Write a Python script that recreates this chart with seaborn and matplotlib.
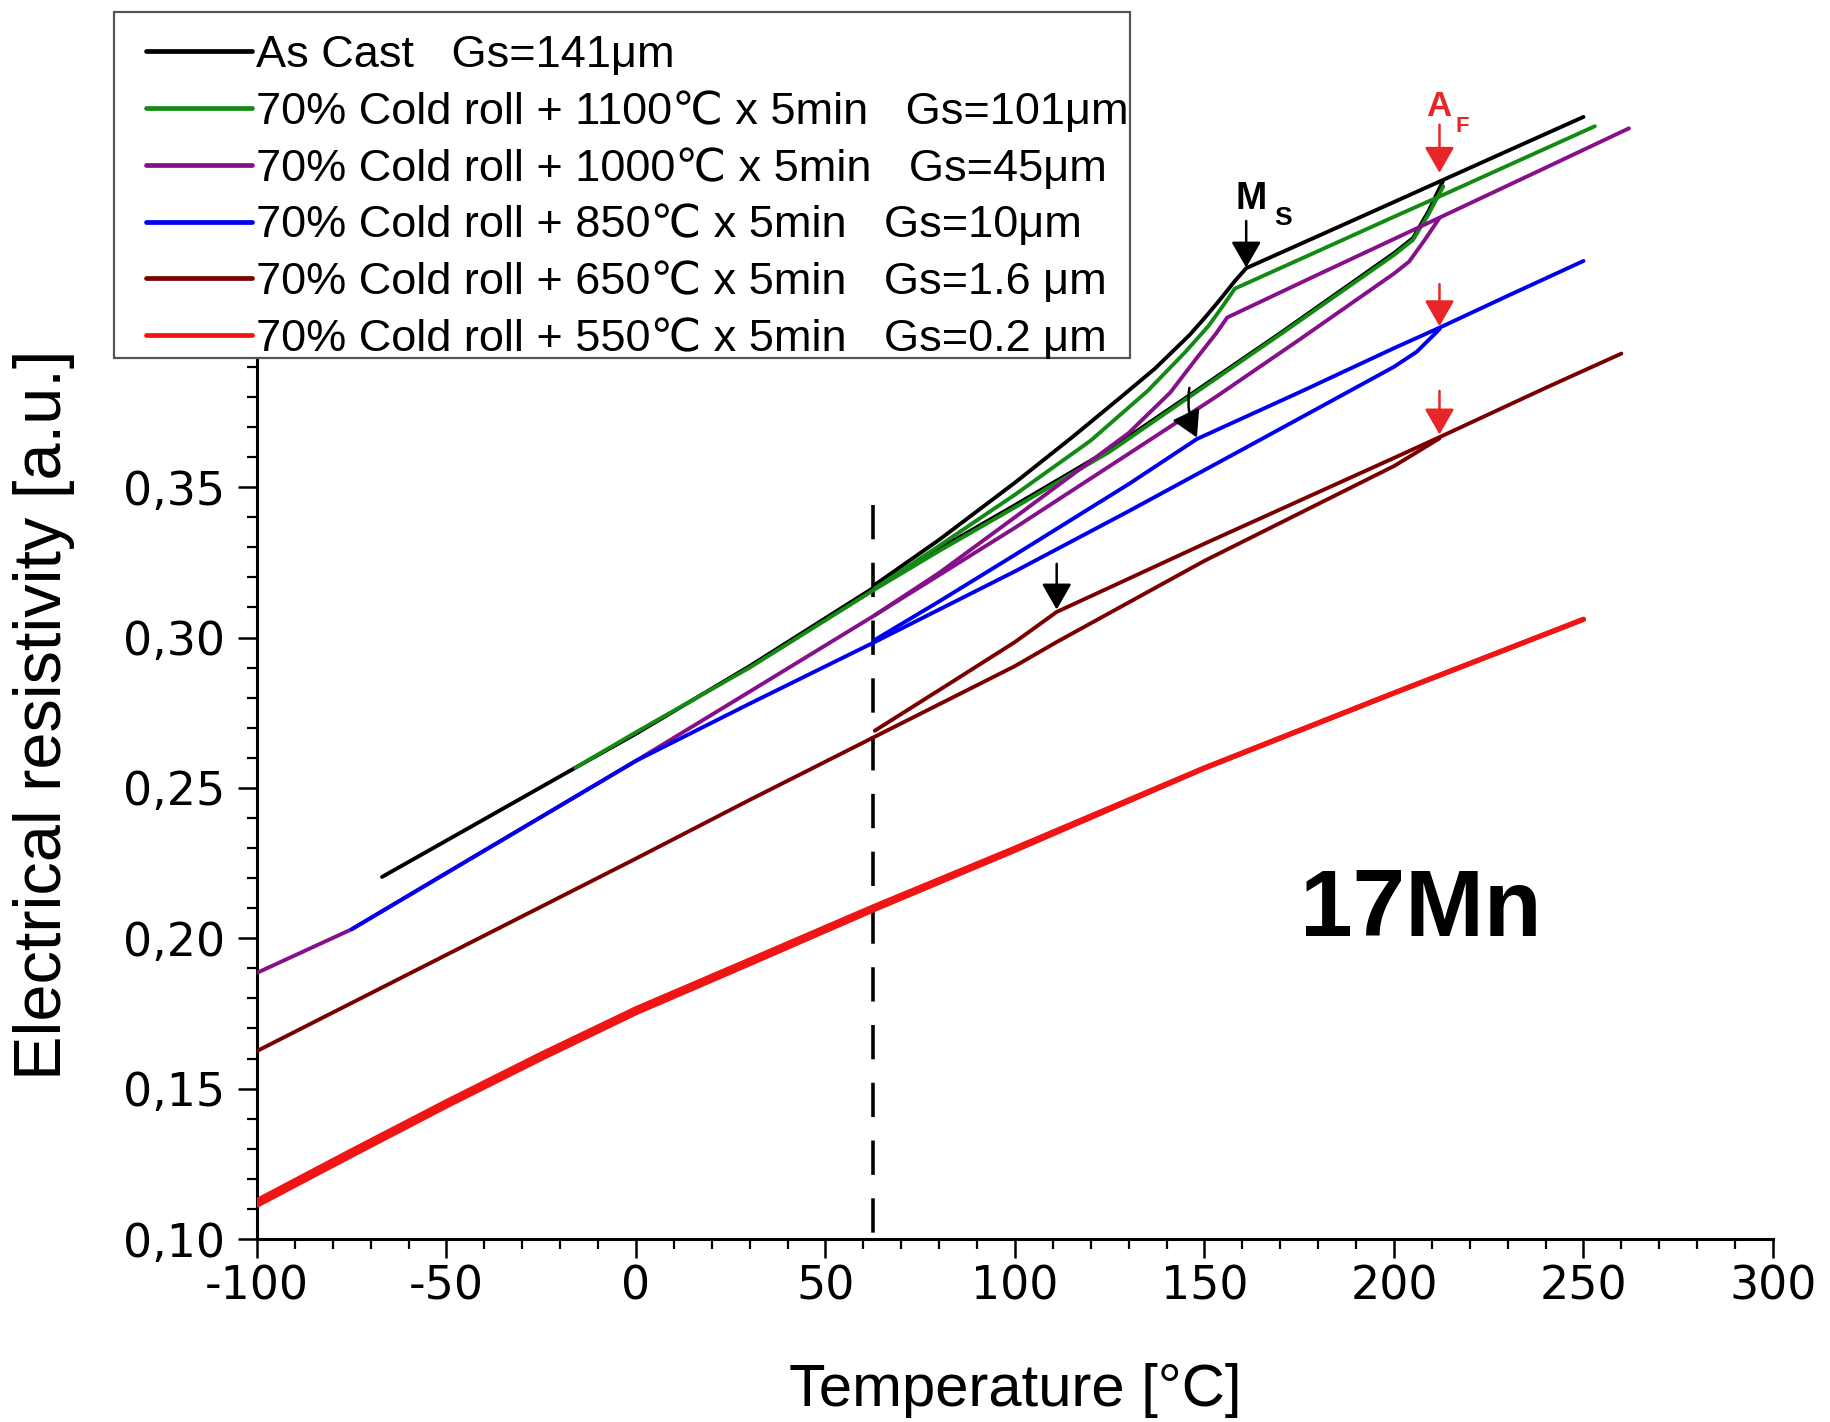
import numpy as np
import pandas as pd
import matplotlib
matplotlib.use("Agg")
import matplotlib.pyplot as plt
from matplotlib.ticker import MultipleLocator, FuncFormatter
from matplotlib.patches import Rectangle
import seaborn as sns

# ---------------- data ----------------
labels = [
    "As Cast   Gs=141\u03bcm",
    "70% Cold roll + 1100\u2103 x 5min   Gs=101\u03bcm",
    "70% Cold roll + 1000\u2103 x 5min   Gs=45\u03bcm",
    "70% Cold roll + 850\u2103 x 5min   Gs=10\u03bcm",
    "70% Cold roll + 650\u2103 x 5min   Gs=1.6 \u03bcm",
    "70% Cold roll + 550\u2103 x 5min   Gs=0.2 \u03bcm",
]
colors = ["#000000", "#138a13", "#86108a", "#0000f0", "#7a0000", "#f01414"]

# As cast
T_ac_h = [-67, -40, -16, 0, 30, 63, 80, 100, 125, 146, 170, 200, 205, 209, 213]
r_ac_h = [0.2204, 0.2396, 0.2567, 0.2680, 0.2905, 0.3168, 0.3295, 0.3440, 0.3625, 0.3805, 0.4012, 0.4278, 0.4328, 0.4415, 0.4520]
T_ac_c = [250, 230, 212, 200, 180, 161, 158, 154, 150, 146, 137, 128, 115, 100, 80, 63]
r_ac_c = [0.4731, 0.4618, 0.4516, 0.4448, 0.4335, 0.4228, 0.4185, 0.4122, 0.4062, 0.4005, 0.3895, 0.3800, 0.3665, 0.3515, 0.3325, 0.3175]

# 1100 C
T_g_h = [-16, 0, 30, 63, 80, 100, 125, 146, 170, 200, 205, 209, 213]
r_g_h = [0.2567, 0.2685, 0.2900, 0.3160, 0.3288, 0.3433, 0.3618, 0.3800, 0.4008, 0.4272, 0.4322, 0.4405, 0.4500]
T_g_c = [253, 230, 213, 200, 180, 158, 155, 151, 145, 135, 120, 100, 80, 63]
r_g_c = [0.4700, 0.4569, 0.4472, 0.4399, 0.4285, 0.4160, 0.4105, 0.4035, 0.3950, 0.3820, 0.3655, 0.3475, 0.3305, 0.3163]

# 1000 C
T_p_h = [-100, -75, -50, 0, 30, 63, 100, 125, 153, 175, 200, 204, 208, 212]
r_p_h = [0.1885, 0.2030, 0.2217, 0.2590, 0.2820, 0.3074, 0.3365, 0.3570, 0.3800, 0.3990, 0.4210, 0.4250, 0.4320, 0.4395]
T_p_c = [262, 240, 212, 200, 180, 156, 153, 148, 141, 130, 115, 100, 80, 63]
r_p_c = [0.4693, 0.4562, 0.4396, 0.4325, 0.4207, 0.4064, 0.4010, 0.3930, 0.3815, 0.3680, 0.3540, 0.3400, 0.3215, 0.3074]

# 850 C
T_b_h = [-75, -50, 0, 30, 63, 100, 130, 160, 200, 206, 212]
r_b_h = [0.2030, 0.2217, 0.2590, 0.2780, 0.2985, 0.3220, 0.3420, 0.3625, 0.3900, 0.3950, 0.4025]
T_b_c = [250, 230, 212, 200, 175, 148, 130, 100, 80, 63]
r_b_c = [0.4252, 0.4136, 0.4030, 0.3962, 0.3815, 0.3660, 0.3510, 0.3275, 0.3120, 0.2992]

# 650 C
T_br_h = [-100, -50, 0, 30, 63, 100, 111, 150, 200, 212]
r_br_h = [0.1625, 0.1945, 0.2265, 0.2460, 0.2670, 0.2905, 0.2985, 0.3255, 0.3570, 0.3662]
T_br_c = [260, 240, 212, 200, 150, 111, 100, 85, 63]
r_br_c = [0.3944, 0.3830, 0.3666, 0.3597, 0.3312, 0.3085, 0.2985, 0.2865, 0.2690]

# 550 C
T_r_h = [-100, -75, -50, -25, 0, 30, 63, 100, 150, 200, 250]
r_r_h = [0.1112, 0.1278, 0.1442, 0.1600, 0.1752, 0.1915, 0.2096, 0.2292, 0.2565, 0.2815, 0.3060]
T_r_c = [250, 200, 150, 100, 63, 30, 0, -25, -50, -75, -100]
r_r_c = [0.3061, 0.2816, 0.2567, 0.2300, 0.2107, 0.1928, 0.1766, 0.1615, 0.1457, 0.1294, 0.1128]

T_dash = 62.6
rho_dash_top = 0.344

# ---------------- build table ----------------
series = [
    (0, "heat", T_ac_h, r_ac_h), (0, "cool", T_ac_c, r_ac_c),
    (1, "heat", T_g_h, r_g_h), (1, "cool", T_g_c, r_g_c),
    (2, "heat", T_p_h, r_p_h), (2, "cool", T_p_c, r_p_c),
    (3, "heat", T_b_h, r_b_h), (3, "cool", T_b_c, r_b_c),
    (4, "heat", T_br_h, r_br_h), (4, "cool", T_br_c, r_br_c),
    (5, "heat", T_r_h, r_r_h), (5, "cool", T_r_c, r_r_c),
]
frames = []
for k, br, T, r in series:
    frames.append(pd.DataFrame({"sample": k, "branch": br, "T": T, "rho": r,
                                "order": np.arange(len(T))}))
df = pd.concat(frames, ignore_index=True)

# ---------------- style ----------------
sns.set_style("ticks")
plt.rcParams['font.family'] = ['Liberation Sans', 'DejaVu Sans']
for key in ["text.color", "axes.labelcolor", "xtick.color", "ytick.color", "axes.edgecolor"]:
    plt.rcParams[key] = "black"

W, H = 1831, 1422
fig = plt.figure(figsize=(W / 100, H / 100), dpi=100)
ax = fig.add_axes([257 / W, 1 - 1239 / H, (1773 - 257) / W, (1239 - 36) / H])

handles = []
for k in range(6):
    for br in ["heat", "cool"]:
        sub = df[(df["sample"] == k) & (df["branch"] == br)].sort_values("order")
        lw = 3.6 if k == 5 else 2.8
        sns.lineplot(data=sub, x="T", y="rho", sort=False, estimator=None,
                     color=colors[k], lw=lw, ax=ax, zorder=3 + k * 0.1,
                     legend=False)
    handles.append(plt.Line2D([], [], color=colors[k], lw=3.4))

# dashed vertical line
ax.plot([T_dash, T_dash], [rho_dash_top, 0.10], color="black", lw=2.6,
        ls=(0, (9.5, 6.5)), zorder=2.5)

# arrows
def arrow(x0, y0, x1, y1, c, rad=0.0):
    ax.annotate("", xy=(x1, y1), xytext=(x0, y0),
                arrowprops=dict(arrowstyle="-|>,head_length=0.4,head_width=0.23",
                                color=c, lw=1.8, shrinkA=0, shrinkB=0,
                                mutation_scale=40,
                                connectionstyle=f"arc3,rad={rad}"),
                zorder=6)

black = "black"
red_ar = "#e8262a"
arrow(161, 0.4385, 161, 0.4230, black)
arrow(146, 0.3830, 148, 0.3665, black, rad=0.15)
arrow(111, 0.3245, 111, 0.3093, black)
arrow(212, 0.4705, 212, 0.4545, red_ar)
arrow(212, 0.4175, 212, 0.4035, red_ar)
arrow(212, 0.3820, 212, 0.3675, red_ar)

ax.text(162.3, 0.4459, "M", fontsize=27, fontweight="bold", ha="center", va="center")
ax.text(170.8, 0.4395, "S", fontsize=19, fontweight="bold", ha="center", va="center")
ax.text(211.9, 0.4765, "A", fontsize=25, fontweight="bold", color=red_ar, ha="center", va="center")
ax.text(218.0, 0.4698, "F", fontsize=16, fontweight="bold", color=red_ar, ha="center", va="center")
ax.text(207, 0.209, "17Mn", fontsize=68, fontweight="bold", ha="center", va="center")

# axes
ax.set_xlim(-100, 300)
ax.set_ylim(0.10, 0.50)
ax.xaxis.set_major_locator(MultipleLocator(50))
ax.xaxis.set_minor_locator(MultipleLocator(10))
ax.yaxis.set_major_locator(MultipleLocator(0.05))
ax.yaxis.set_minor_locator(MultipleLocator(0.01))
ax.yaxis.set_major_formatter(FuncFormatter(lambda v, p: f"{v:.2f}".replace(".", ",")))
ax.xaxis.set_major_formatter(FuncFormatter(lambda v, p: f"{v:.0f}"))
for s in ["top", "right"]:
    ax.spines[s].set_visible(False)
for s in ["left", "bottom"]:
    ax.spines[s].set_linewidth(2.2)
    ax.spines[s].set_color("black")
ax.tick_params(which="major", direction="out", length=14, width=1.8, labelsize=33,
               labelfontfamily="DejaVu Sans", color="black", labelcolor="black")
ax.tick_params(which="minor", direction="out", length=7, width=1.6, color="black")
ax.tick_params(axis="y", which="major", pad=9)
ax.tick_params(axis="x", which="major", pad=4)

ax.set_xlabel("Temperature [\u00b0C]", fontsize=43)
ax.set_ylabel("Electrical resistivity [a.u.]", fontsize=48)
ax.xaxis.set_label_coords(0.5, (1239 - 1390) / (1239 - 36))
ax.xaxis.label.set_va("center")
ax.yaxis.set_label_coords((44 - 257) / 1516, (1239 - 715) / (1239 - 36))
ax.yaxis.label.set_va("center")

# legend box (white, covers the top of the y axis) and legend entries
box = Rectangle((114 / W, 1 - 358 / H), (1130 - 114) / W, (358 - 12) / H,
                transform=fig.transFigure, facecolor="white", edgecolor="#555555",
                linewidth=1.6, zorder=4)
fig.patches.append(box)
leg = fig.legend(handles, labels, loc="upper left",
                 bbox_to_anchor=(146 / W, 1 - 35 / H), bbox_transform=fig.transFigure,
                 borderaxespad=0, borderpad=0, frameon=False, fontsize=32.5,
                 handlelength=2.35, handletextpad=0.08, labelspacing=0.335)
leg.set_zorder(5)

fig.savefig("out.png", dpi=100, facecolor="white")
